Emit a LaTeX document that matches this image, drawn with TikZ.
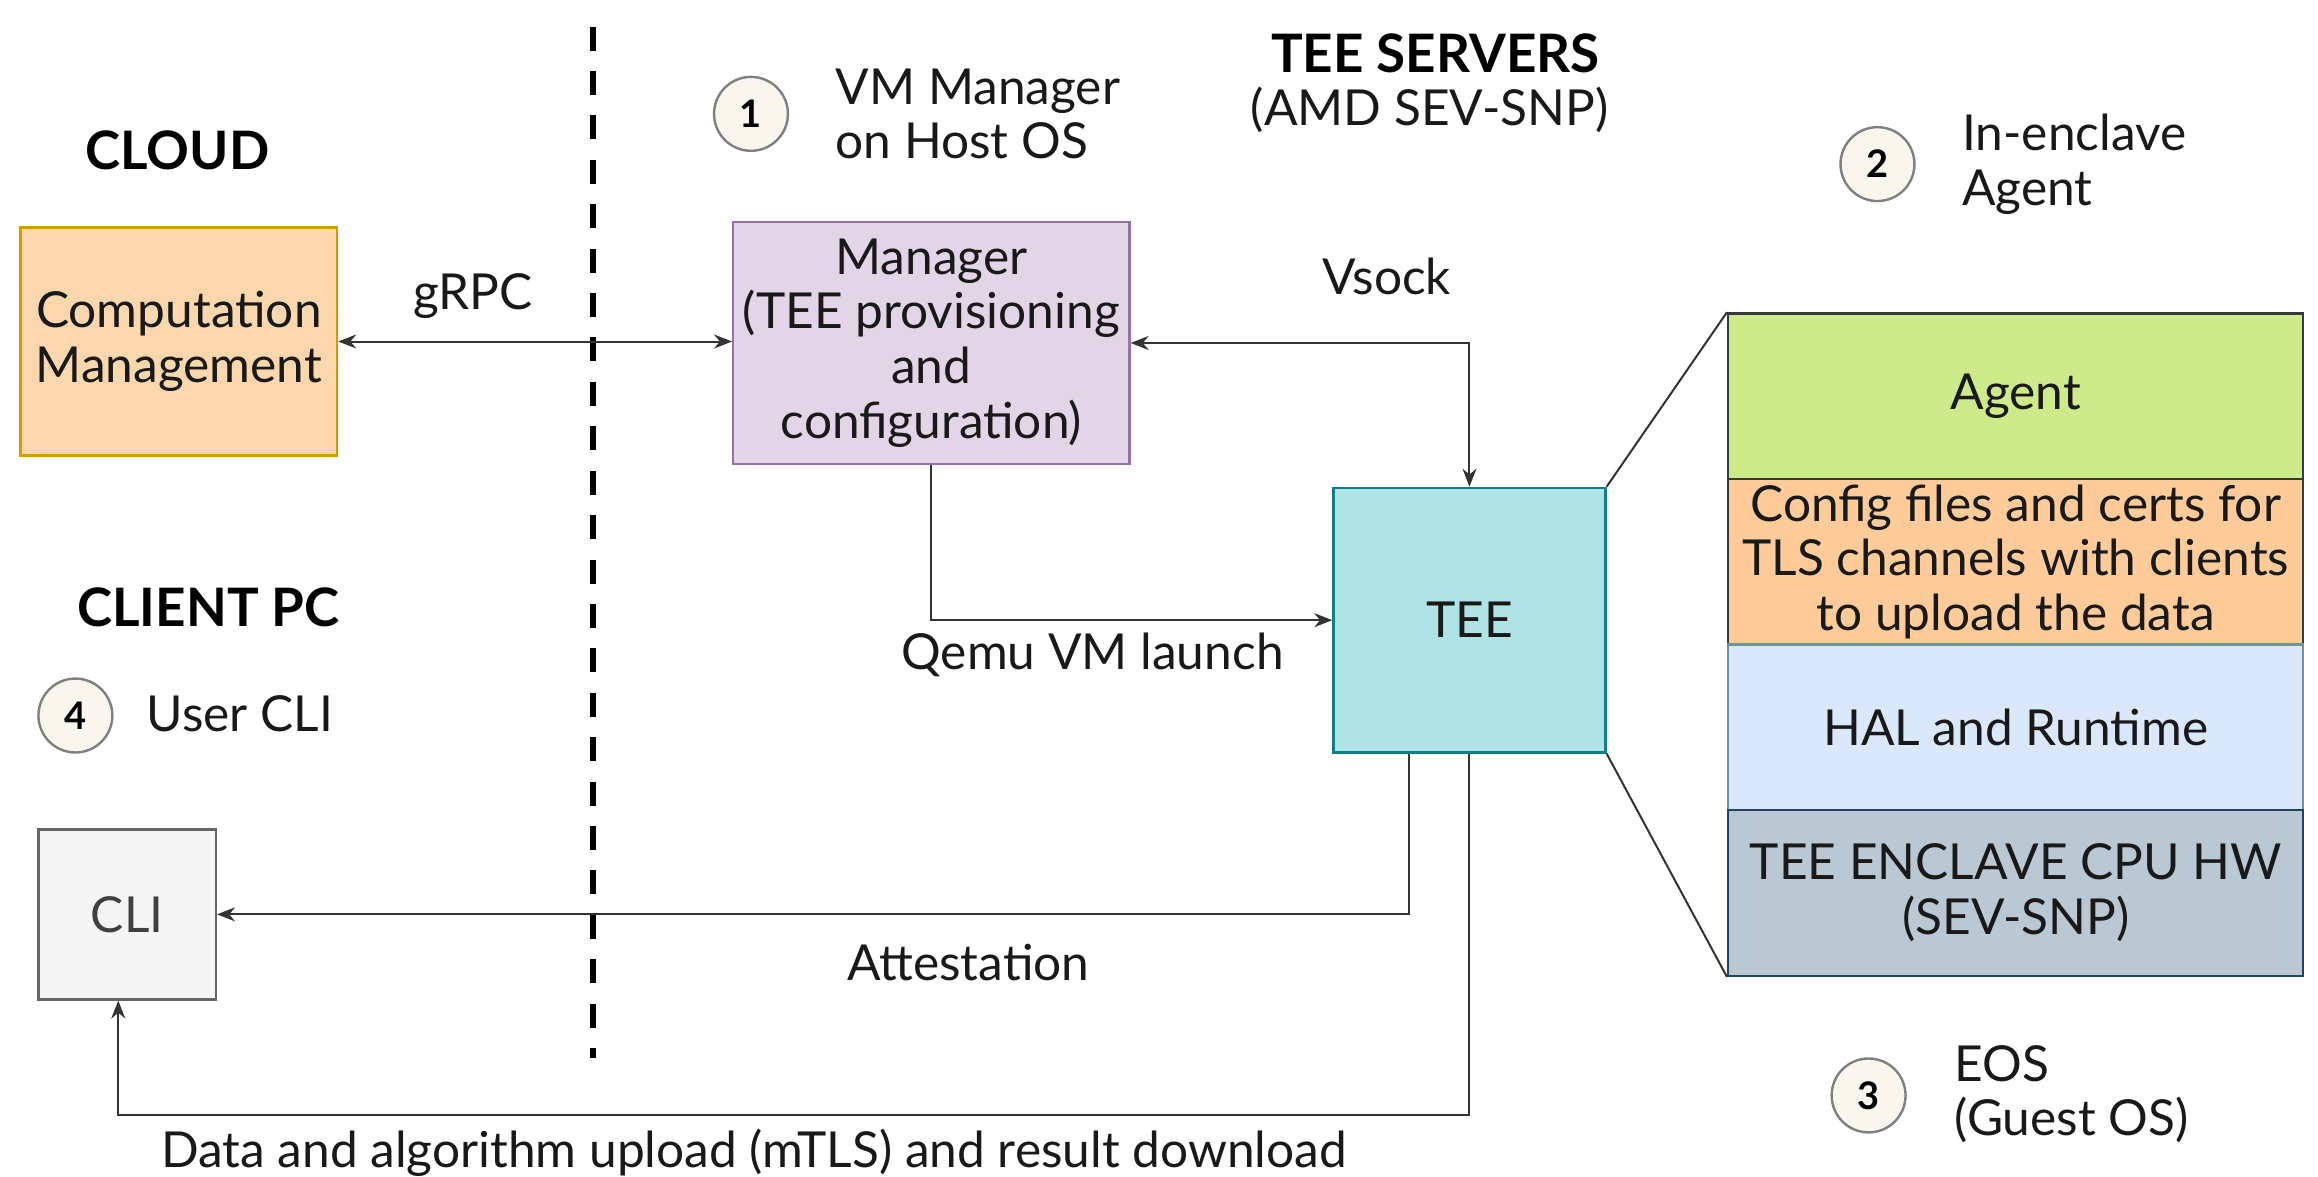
\documentclass[tikz,border=0pt]{standalone}
\usepackage{fontspec}
\setmainfont{Lato}
\usetikzlibrary{arrows.meta}
\definecolor{compF}{HTML}{FAD7AC}\definecolor{compD}{HTML}{D79B00}
\definecolor{mgrF}{HTML}{E1D5E7}\definecolor{mgrD}{HTML}{9673A6}
\definecolor{teeF}{HTML}{B0E3E6}\definecolor{teeD}{HTML}{0E8088}
\definecolor{agF}{HTML}{CDEB8B}\definecolor{agD}{HTML}{36393D}
\definecolor{cfF}{HTML}{FFCC99}\definecolor{cfD}{HTML}{36393D}
\definecolor{halF}{HTML}{DAE8FC}\definecolor{halD}{HTML}{6C8EBF}
\definecolor{enF}{HTML}{BAC8D3}\definecolor{enD}{HTML}{23445D}
\definecolor{cliF}{HTML}{F5F5F5}\definecolor{cliD}{HTML}{666666}
\definecolor{numF}{HTML}{F9F7ED}\definecolor{numD}{HTML}{7F7F7F}
\def\PX{0.739pt}
\tikzset{
  txt/.style={font=\fontsize{24.8}{27.3}\selectfont, text=black!90, inner sep=0pt, align=center},
  head/.style={font=\fontsize{26.5}{27.3}\selectfont\bfseries, inner sep=0pt, align=center},
  box/.style={draw, line width=1.2pt, txt, align=center},
  numc/.style={circle, draw=numD, fill=numF, line width=1.2pt, minimum size=50*\PX, inner sep=0pt, font=\fontsize{19}{20}\selectfont\bfseries},
  conn/.style={line width=1pt, draw=black!80, -{Stealth[length=9pt,width=7pt]}},
  dconn/.style={line width=1pt, draw=black!80, {Stealth[length=9pt,width=7pt]}-{Stealth[length=9pt,width=7pt]}},
  divider/.style={line width=3pt, dash pattern=on 12pt off 10.2pt},
  zoomline/.style={line width=1pt, draw=black!80}
}
\begin{document}
\begin{tikzpicture}[x=0.739pt, y=-0.739pt]
\useasboundingbox (0,0) rectangle (1568,796);
% divider
\coordinate (d1) at (401,18);
\coordinate (d2) at (401,716);
\draw[divider] (d1) -- (d2);
% headings
\node[head] (cloud) at (120,102) {CLOUD};
\node[head] (clientpc) at (141,411) {CLIENT PC};
\node[head] (teeserv) at (971,36) {TEE SERVERS};
\node[txt] (amd) at (967,74) {(AMD SEV-SNP)};
% boxes
\node[box, fill=compF, draw=compD, minimum width=214*\PX, minimum height=154*\PX] (comp) at (121,231) {Computation\\Management};
\node[box, fill=mgrF, draw=mgrD, minimum width=268*\PX, minimum height=164*\PX] (mgr) at (630,232) {Manager\\(TEE provisioning\\and\\configuration)};
\node[box, fill=teeF, draw=teeD, minimum width=184*\PX, minimum height=179*\PX] (tee) at (994,419.5) {TEE};
\node[box, fill=cliF, draw=cliD, text=black!75, minimum width=120*\PX, minimum height=115*\PX] (cli) at (86,618.5) {CLI};
% stack
\node[box, fill=agF, draw=agD, minimum width=389*\PX, minimum height=112*\PX] (agent) at (1363.5,268) {Agent};
\node[box, fill=cfF, draw=cfD, minimum width=389*\PX, minimum height=112*\PX] (cfg) at (1363.5,380) {Config files and certs for\\TLS channels with clients\\to upload the data};
\node[box, fill=halF, draw=halD, minimum width=389*\PX, minimum height=112*\PX] (hal) at (1363.5,492) {HAL and Runtime};
\node[box, fill=enF, draw=enD, minimum width=389*\PX, minimum height=112*\PX] (encl) at (1363.5,604) {TEE ENCLAVE CPU HW\\(SEV-SNP)};
% numbered notes
\node[numc] (n1) at (508,77) {1};
\node[txt, anchor=west, align=left] (n1t) at (565,77) {VM Manager\\on Host OS};
\node[numc] (n2) at (1270,111) {2};
\node[txt, anchor=west, align=left] (n2t) at (1327,111) {In-enclave\\Agent};
\node[numc] (n3) at (1264,741) {3};
\node[txt, anchor=west, align=left] (n3t) at (1322,740) {EOS\\(Guest OS)};
\node[numc] (n4) at (51,484) {4};
\node[txt, anchor=west, align=left] (n4t) at (99,483) {User CLI};
% connectors
\draw[dconn] (comp.east) -- (comp.east -| mgr.west);
\node[txt] (grpc) at (320,200) {gRPC};
\draw[dconn] (mgr.east) -| (tee.north);
\node[txt] (vsock) at (938,187) {Vsock};
\draw[conn] (mgr.south) |- (tee.west);
\node[txt] (qemu) at (739,443) {Qemu VM launch};
\coordinate (att) at ([xshift=-41*\PX]tee.south);
\draw[conn] (att) |- (cli.east);
\node[txt] (attl) at (655,651) {Attestation};
\coordinate (dcorner) at (994,754);
\coordinate (cliin) at ([xshift=-6*\PX]cli.south);
\draw[conn] (tee.south) -- (dcorner) -| (cliin);
\node[txt] (datal) at (510,780) {Data and algorithm upload (mTLS) and result download};
% zoom lines
\draw[zoomline] (tee.north east) -- (agent.north west);
\draw[zoomline] (tee.south east) -- (encl.south west);
\end{tikzpicture}
\end{document}
